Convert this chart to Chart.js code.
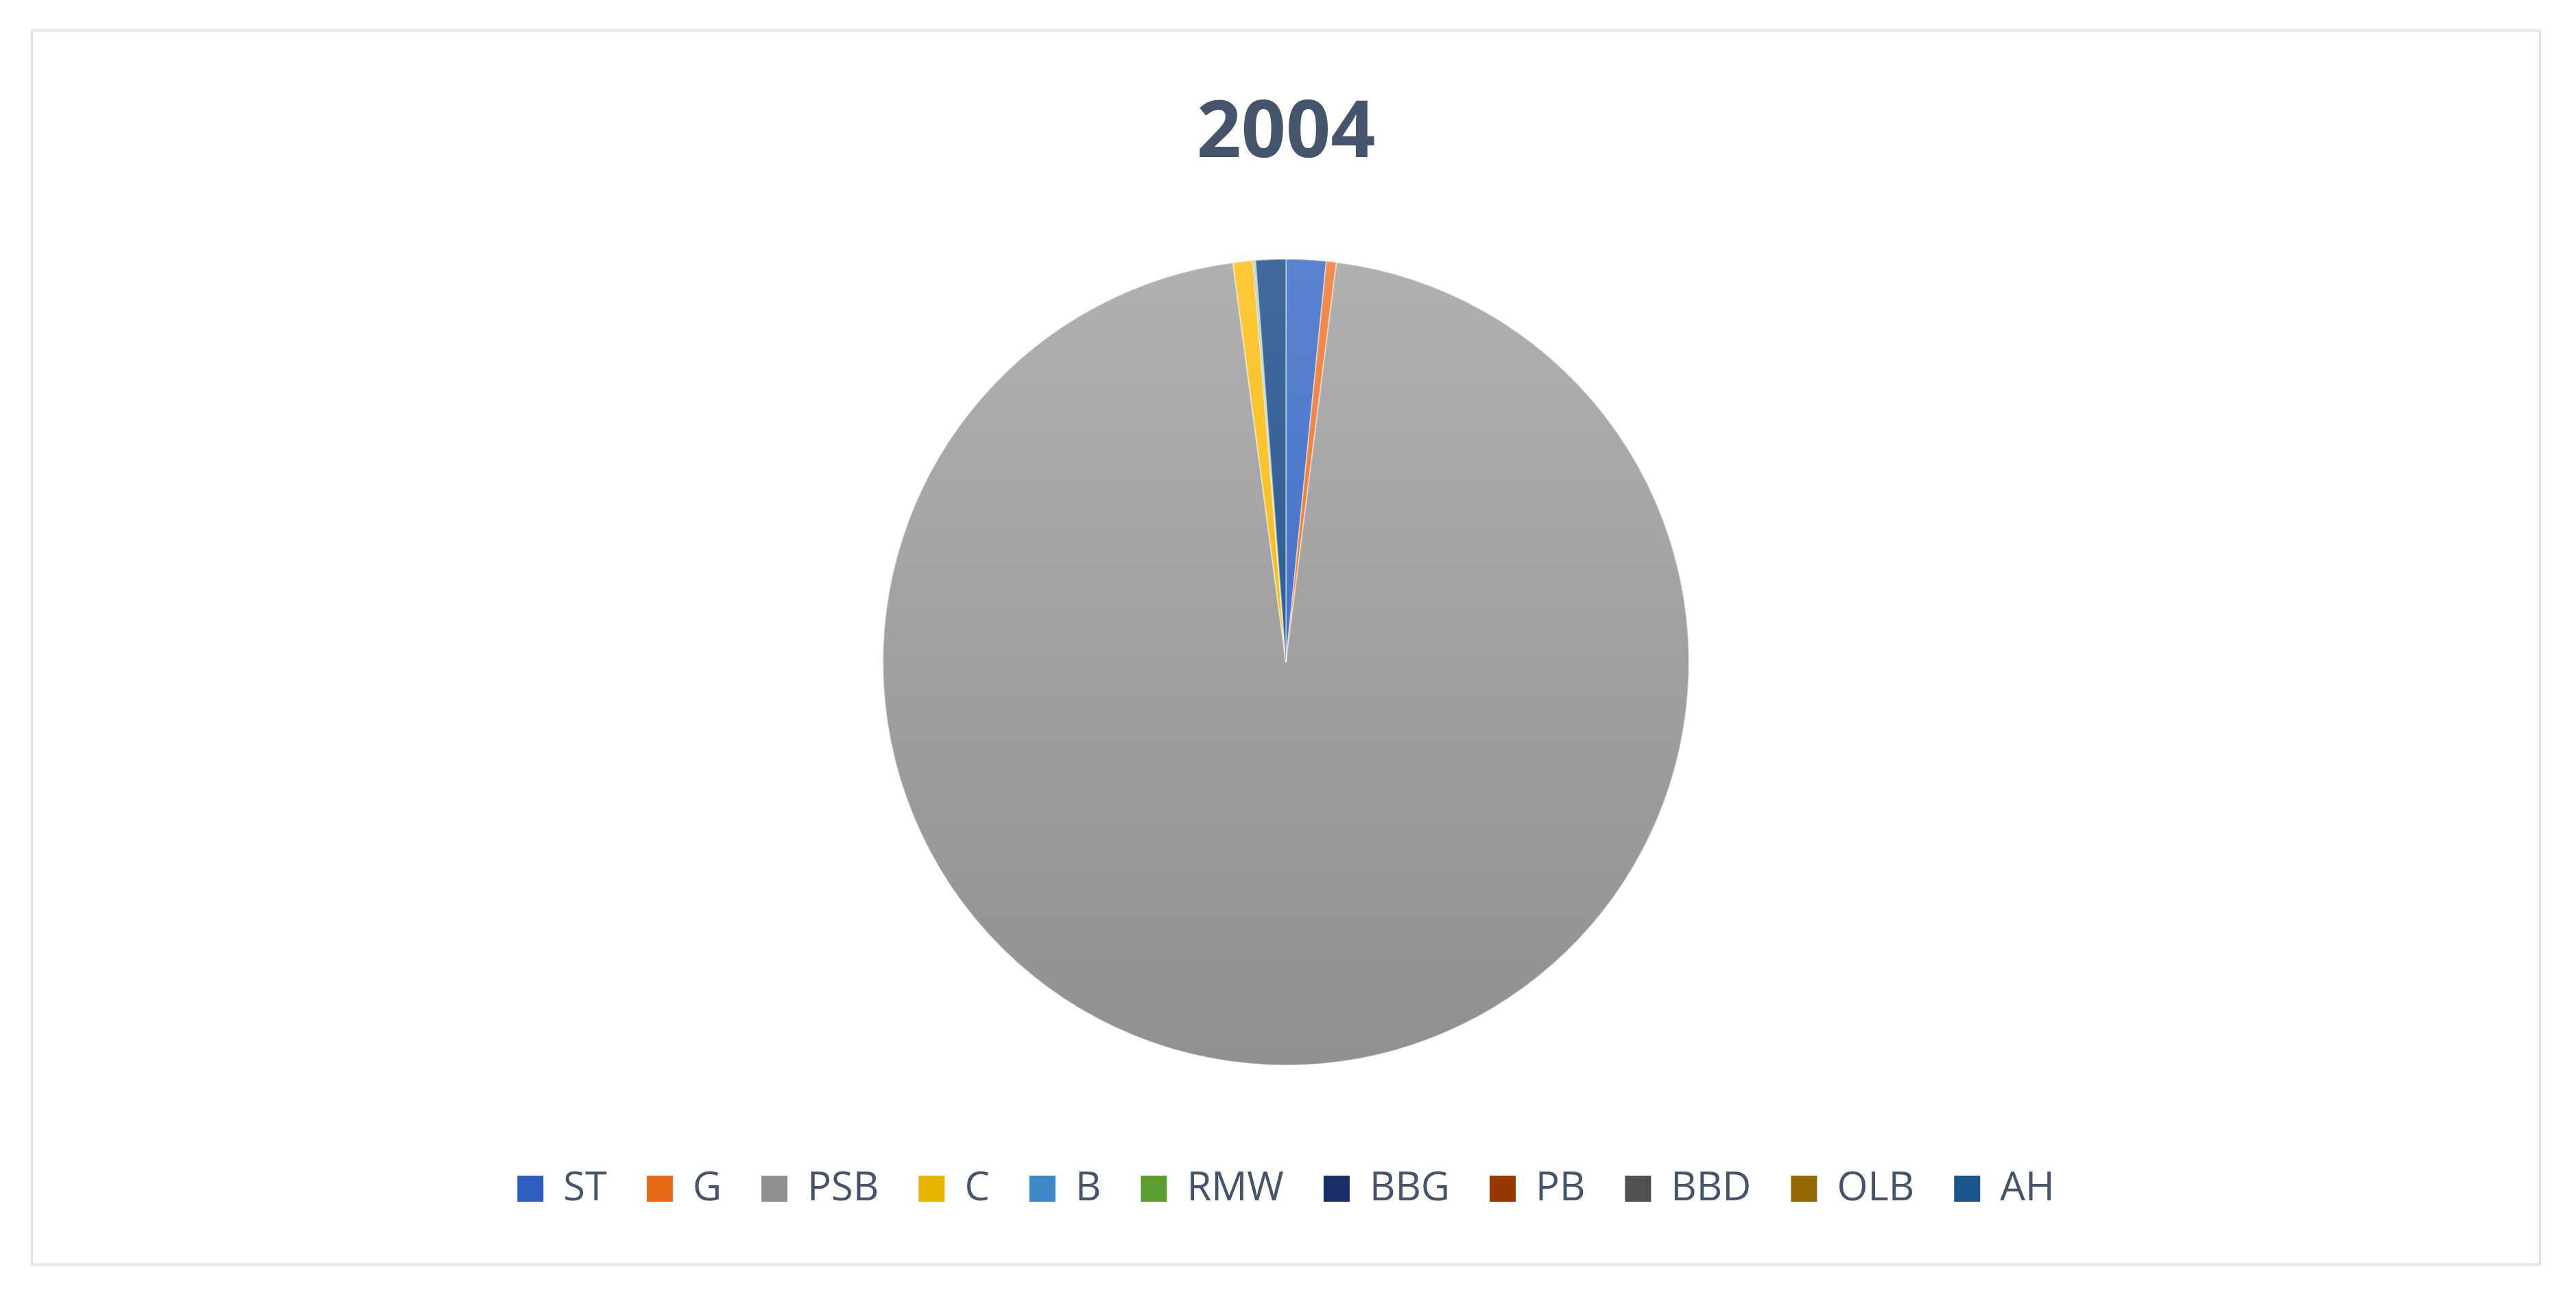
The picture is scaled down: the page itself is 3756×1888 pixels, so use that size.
<!DOCTYPE html>
<html>
<head>
<meta charset="utf-8">
<script src="https://cdn.jsdelivr.net/npm/chart.js@4"></script>
<style>
  body { margin: 0; background: #fff; }
  #box { position: absolute; left: 45px; top: 43px; width: 3660px; height: 1802px; border: 3px solid #dbe3ea; box-sizing: border-box; }
</style>
</head>
<body>
<div id="box"><canvas id="myChart"></canvas></div>
<script>
const labels = ['ST', 'G', 'PSB', 'C', 'B', 'RMW', 'BBG', 'PB', 'BBD', 'OLB', 'AH'];
const values = [1.6, 0.4, 95.8, 0.8, 0.05, 0.05, 0, 0, 0, 0, 1.2];
const topColors = ['#5b83d0', '#f28c50', '#b0b0b0', '#ffc83a', '#6fa8e0', '#7ab654', '#3a5290', '#b05a36', '#707070', '#a8822a', '#41699c'];
const bottomColors = ['#2e5fc0', '#e86a18', '#909090', '#e8b400', '#3f88c8', '#5c9e30', '#1a2f6a', '#983800', '#505050', '#946800', '#1a558e'];

function fill(ctx) {
    const chart = ctx.chart;
    const area = chart.chartArea;
    if (!area) return topColors[ctx.dataIndex];
    const g = chart.ctx.createLinearGradient(0, area.top, 0, area.bottom);
    g.addColorStop(0, topColors[ctx.dataIndex]);
    g.addColorStop(1, bottomColors[ctx.dataIndex]);
    return g;
}

new Chart(document.getElementById('myChart'), {
    type: 'pie',
    data: {
        labels: labels,
        datasets: [{
            data: values,
            backgroundColor: fill,
            borderColor: 'rgba(255,255,255,0.4)',
            borderWidth: 2
        }]
    },
    options: {
        responsive: true,
        maintainAspectRatio: false,
        animation: false,
        layout: { padding: { bottom: 70 } },
        plugins: {
            title: {
                display: true,
                text: '2004',
                color: '#44546a',
                font: { family: 'Open Sans', size: 114, weight: 'bold' },
                padding: { top: 82, bottom: 112 }
            },
            legend: {
                position: 'bottom',
                title: {
                    display: true,
                    text: ' ',
                    font: { size: 10 },
                    padding: { top: 50, bottom: 30 }
                },
                labels: {
                    color: '#44546a',
                    font: { family: 'Open Sans', size: 58 },
                    boxWidth: 38,
                    boxHeight: 38,
                    padding: 58,
                    generateLabels: (chart) => labels.map((l, i) => ({
                        text: l,
                        fillStyle: bottomColors[i],
                        strokeStyle: bottomColors[i],
                        lineWidth: 0,
                        fontColor: '#44546a',
                        index: i
                    }))
                }
            },
            tooltip: { enabled: false }
        }
    }
});
</script>
</body>
</html>
